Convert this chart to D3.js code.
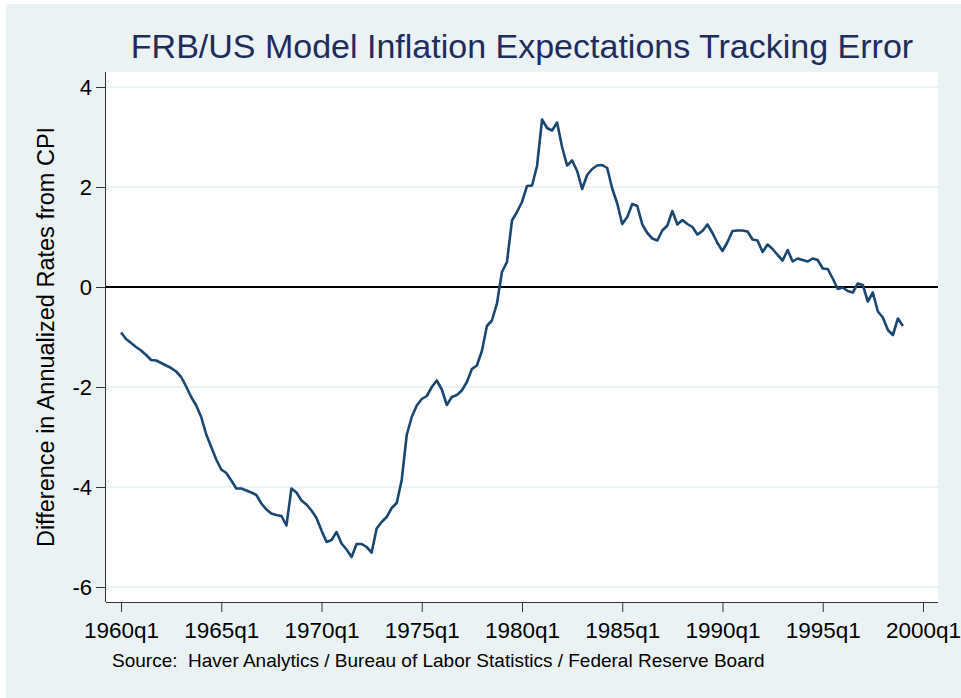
<!DOCTYPE html>
<html>
<head>
<meta charset="utf-8">
<script src="https://cdn.jsdelivr.net/npm/d3@7"></script>
<style>
  body { margin: 0; background: #fff; }
  text { font-family: "Liberation Sans", Arial, sans-serif; }
</style>
</head>
<body>
<div id="chart"></div>
<script>
var width = 961, height = 698;

// Quarterly data, starting 1960q1
var startYear = 1960;
var values = [
  -0.91, -1.04, -1.12, -1.20, -1.27, -1.36, -1.46, -1.47, -1.52, -1.57,
  -1.62, -1.69, -1.80, -1.99, -2.20, -2.37, -2.60, -2.95, -3.20, -3.45,
  -3.65, -3.72, -3.87, -4.03, -4.03, -4.07, -4.11, -4.16, -4.33, -4.45,
  -4.53, -4.56, -4.58, -4.77, -4.03, -4.11, -4.27, -4.35, -4.47, -4.62,
  -4.87, -5.10, -5.06, -4.90, -5.13, -5.25, -5.40, -5.14, -5.14, -5.20,
  -5.31, -4.83, -4.70, -4.60, -4.42, -4.32, -3.86, -2.96, -2.60, -2.37,
  -2.24, -2.18, -2.00, -1.87, -2.05, -2.36, -2.20, -2.16, -2.07, -1.90,
  -1.64, -1.57, -1.28, -0.78, -0.67, -0.33, 0.30, 0.50, 1.33, 1.50,
  1.70, 2.02, 2.03, 2.42, 3.35, 3.18, 3.13, 3.29, 2.80, 2.43,
  2.53, 2.32, 1.96, 2.24, 2.36, 2.43, 2.44, 2.38, 1.97, 1.67,
  1.26, 1.40, 1.66, 1.62, 1.25, 1.08, 0.97, 0.93, 1.13, 1.23,
  1.52, 1.25, 1.34, 1.26, 1.20, 1.05, 1.12, 1.25, 1.08, 0.88,
  0.72, 0.90, 1.12, 1.13, 1.13, 1.11, 0.95, 0.93, 0.70, 0.85,
  0.76, 0.64, 0.53, 0.74, 0.51, 0.57, 0.54, 0.51, 0.57, 0.54,
  0.37, 0.36, 0.17, -0.04, -0.01, -0.08, -0.11, 0.07, 0.04, -0.29,
  -0.11, -0.49, -0.61, -0.86, -0.96, -0.63, -0.78
];

// Axis ticks
var xTicks = [0, 20, 40, 60, 80, 100, 120, 140, 160];
var xTickLabels = ["1960q1", "1965q1", "1970q1", "1975q1", "1980q1",
                   "1985q1", "1990q1", "1995q1", "2000q1"];
var yTicks = [-6, -4, -2, 0, 2, 4];

var titleText = "FRB/US Model Inflation Expectations Tracking Error";
var yTitleText = "Difference in Annualized Rates from CPI";
var noteText = "Source:  Haver Analytics / Bureau of Labor Statistics / Federal Reserve Board";

var plot = { left: 106, right: 938, top: 72, bottom: 602 };

var xScale = d3.scaleLinear().domain([-3, 163]).range([plot.left, plot.right]);
var yScale = d3.scaleLinear().domain([-6.3, 4.3]).range([plot.bottom, plot.top]);

var svg = d3.select("#chart").append("svg")
  .attr("width", width)
  .attr("height", height);

// graph region
svg.append("rect")
  .attr("x", 6).attr("y", 4)
  .attr("width", width - 6).attr("height", height - 4)
  .attr("fill", "#eaf2f3");

// plot region
svg.append("rect")
  .attr("x", plot.left).attr("y", plot.top)
  .attr("width", plot.right - plot.left).attr("height", plot.bottom - plot.top)
  .attr("fill", "#ffffff");

// gridlines
svg.append("g")
  .selectAll("line")
  .data(yTicks.filter(function(d) { return d !== 0; }))
  .enter().append("line")
  .attr("x1", plot.left).attr("x2", plot.right)
  .attr("y1", function(d) { return yScale(d); })
  .attr("y2", function(d) { return yScale(d); })
  .attr("stroke", "#eaf2f3")
  .attr("stroke-width", 2);

// zero line
svg.append("line")
  .attr("x1", plot.left).attr("x2", plot.right)
  .attr("y1", yScale(0)).attr("y2", yScale(0))
  .attr("stroke", "#000")
  .attr("stroke-width", 2);

// axes
var xAxis = d3.axisBottom(xScale)
  .tickValues(xTicks)
  .tickSize(10)
  .tickPadding(10)
  .tickFormat(function(d, i) { return xTickLabels[i]; });

var yAxis = d3.axisLeft(yScale)
  .tickValues(yTicks)
  .tickSize(10)
  .tickPadding(4)
  .tickFormat(d3.format("d"));

var gx = svg.append("g")
  .attr("transform", "translate(0," + plot.bottom + ")")
  .call(xAxis);
gx.select(".domain")
  .attr("d", "M" + plot.left + ",0.5H" + plot.right)
  .attr("stroke", "#333");
gx.selectAll(".tick line").attr("stroke", "#333");
gx.selectAll(".tick text")
  .attr("fill", "#000")
  .style("font-size", "22.5px");

var gy = svg.append("g")
  .attr("transform", "translate(" + plot.left + ",0)")
  .call(yAxis);
gy.select(".domain")
  .attr("d", "M-0.5," + plot.top + "V" + plot.bottom)
  .attr("stroke", "#333");
gy.selectAll(".tick line").attr("stroke", "#333");
gy.selectAll(".tick text")
  .attr("fill", "#000")
  .style("font-size", "22px")
  .text(function(d) { return d < 0 ? "-" + Math.abs(d) : d; });

// series line
var line = d3.line()
  .x(function(d, i) { return xScale(i); })
  .y(function(d) { return yScale(d); });

svg.append("path")
  .datum(values)
  .attr("d", line)
  .attr("fill", "none")
  .attr("stroke", "#1a476f")
  .attr("stroke-width", 2.6)
  .attr("stroke-linejoin", "round");

// title
svg.append("text")
  .attr("x", (plot.left + plot.right) / 2)
  .attr("y", 58)
  .attr("text-anchor", "middle")
  .attr("fill", "#1e2d5c")
  .style("font-size", "34px")
  .text(titleText);

// y axis title
svg.append("text")
  .attr("transform", "translate(54," + ((plot.top + plot.bottom) / 2) + ") rotate(-90)")
  .attr("text-anchor", "middle")
  .attr("fill", "#000")
  .style("font-size", "23.5px")
  .text(yTitleText);

// note
svg.append("text")
  .attr("x", 112)
  .attr("y", 667)
  .attr("fill", "#000")
  .style("font-size", "19px")
  .style("white-space", "pre")
  .text(noteText);
</script>
</body>
</html>
